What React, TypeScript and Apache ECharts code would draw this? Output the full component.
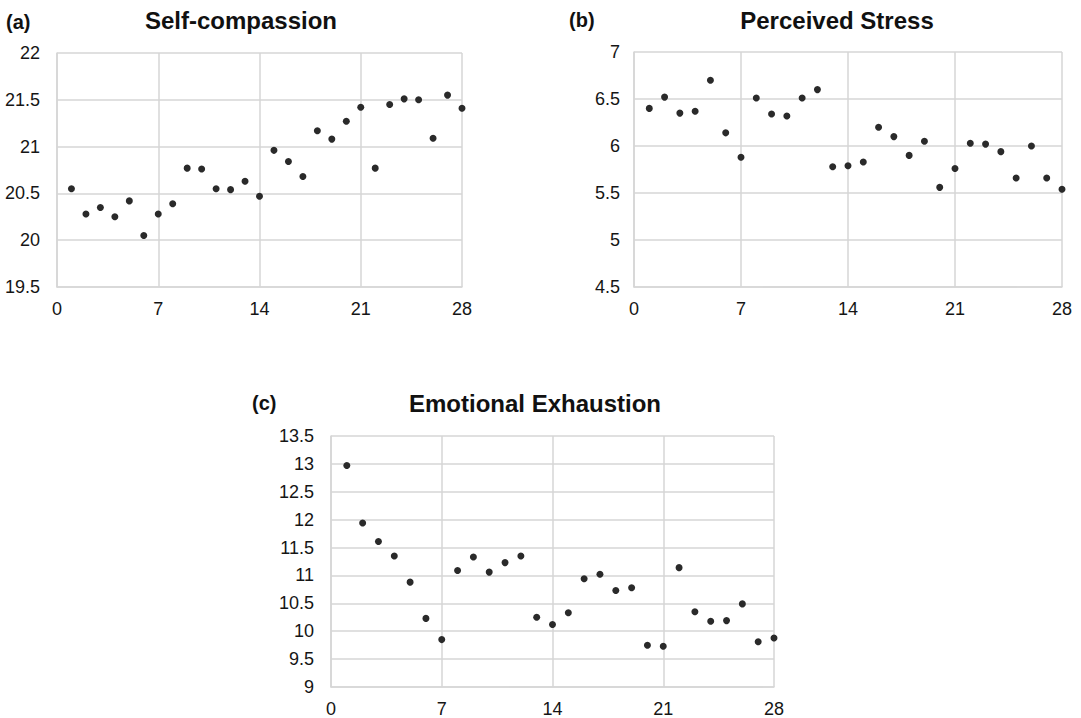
import React, { useEffect, useRef } from "react";
import * as echarts from "echarts";

const days = [1,2,3,4,5,6,7,8,9,10,11,12,13,14,15,16,17,18,19,20,21,22,23,24,25,26,27,28];
const selfCompassion = [20.55,20.28,20.35,20.25,20.42,20.05,20.28,20.39,20.77,20.76,20.55,20.54,20.63,20.47,20.96,20.84,20.68,21.17,21.08,21.27,21.42,20.77,21.45,21.51,21.50,21.09,21.55,21.41];
const perceivedStress = [6.40,6.52,6.35,6.37,6.70,6.14,5.88,6.51,6.34,6.32,6.51,6.60,5.78,5.79,5.83,6.20,6.10,5.90,6.05,5.56,5.76,6.03,6.02,5.94,5.66,6.00,5.66,5.54];
const emotionalExhaustion = [12.97,11.94,11.61,11.35,10.88,10.23,9.85,11.09,11.33,11.06,11.23,11.35,10.25,10.12,10.33,10.94,11.02,10.73,10.78,9.75,9.73,11.14,10.35,10.18,10.19,10.49,9.81,9.88];
const titles = ["Self-compassion", "Perceived Stress", "Emotional Exhaustion"];
const panelLabels = ["(a)", "(b)", "(c)"];
const yRanges = [[19.5, 22], [4.5, 7], [9, 13.5]];
const xTicks = [0, 7, 14, 21, 28];

const FONT = "'Liberation Sans', Arial, sans-serif";
const GRID_COLOR = "#d6d6d6";

export default function App() {
  const ref = useRef<HTMLDivElement>(null);
  useEffect(() => {
    if (!ref.current) return;
    const chart = echarts.init(ref.current, null, { renderer: "svg" });
    const grids = [
      { left: 57, top: 53, width: 405, height: 234 },
      { left: 634, top: 52, width: 428, height: 235 },
      { left: 331, top: 436, width: 443, height: 255 },
    ];
    const yLabelMargins = [17, 14, 17];
    const seriesData = [selfCompassion, perceivedStress, emotionalExhaustion];
    const titlePos = [[241, 20], [837, 20], [535, 403]];
    const labelPos = [[6, 22], [569, 20], [252, 403]];
    const option: any = {
      animation: false,
      backgroundColor: "#ffffff",
      grid: grids.map((g) => ({ ...g, containLabel: false })),
      xAxis: grids.map((_, i) => ({
        type: "value",
        gridIndex: i,
        min: xTicks[0],
        max: xTicks[xTicks.length - 1],
        interval: 7,
        axisLine: { show: true, lineStyle: { color: GRID_COLOR, width: 1.5 } },
        axisTick: { show: false },
        splitLine: { show: true, lineStyle: { color: GRID_COLOR, width: 1.5 } },
        axisLabel: { color: "#151515", fontSize: 18, fontFamily: FONT, margin: 13 },
      })),
      yAxis: grids.map((_, i) => ({
        type: "value",
        gridIndex: i,
        min: yRanges[i][0],
        max: yRanges[i][1],
        interval: 0.5,
        axisLine: { show: true, lineStyle: { color: GRID_COLOR, width: 1.5 } },
        axisTick: { show: false },
        splitLine: { show: true, lineStyle: { color: GRID_COLOR, width: 1.5 } },
        axisLabel: { color: "#151515", fontSize: 18, fontFamily: FONT, margin: yLabelMargins[i] },
      })),
      series: seriesData.map((d, i) => ({
        type: "scatter",
        xAxisIndex: i,
        yAxisIndex: i,
        symbolSize: 7,
        itemStyle: { color: "#2a2a2a", opacity: 1 },
        data: days.map((x, j) => [x, d[j]]),
      })),
      graphic: [
        ...titles.map((t, i) => ({
          type: "text",
          x: titlePos[i][0],
          y: titlePos[i][1],
          style: {
            text: t,
            fill: "#111",
            font: `bold 24px ${FONT}`,
            textAlign: "center",
            textVerticalAlign: "middle",
          },
        })),
        ...panelLabels.map((t, i) => ({
          type: "text",
          x: labelPos[i][0],
          y: labelPos[i][1],
          style: {
            text: t,
            fill: "#111",
            font: `bold 20px ${FONT}`,
            textAlign: "left",
            textVerticalAlign: "middle",
          },
        })),
      ],
    };
    chart.setOption(option);
    return () => chart.dispose();
  }, []);
  return (
    <div
      ref={ref}
      style={{ position: "fixed", left: 0, top: 0, width: 1081, height: 718, background: "#fff" }}
    />
  );
}
